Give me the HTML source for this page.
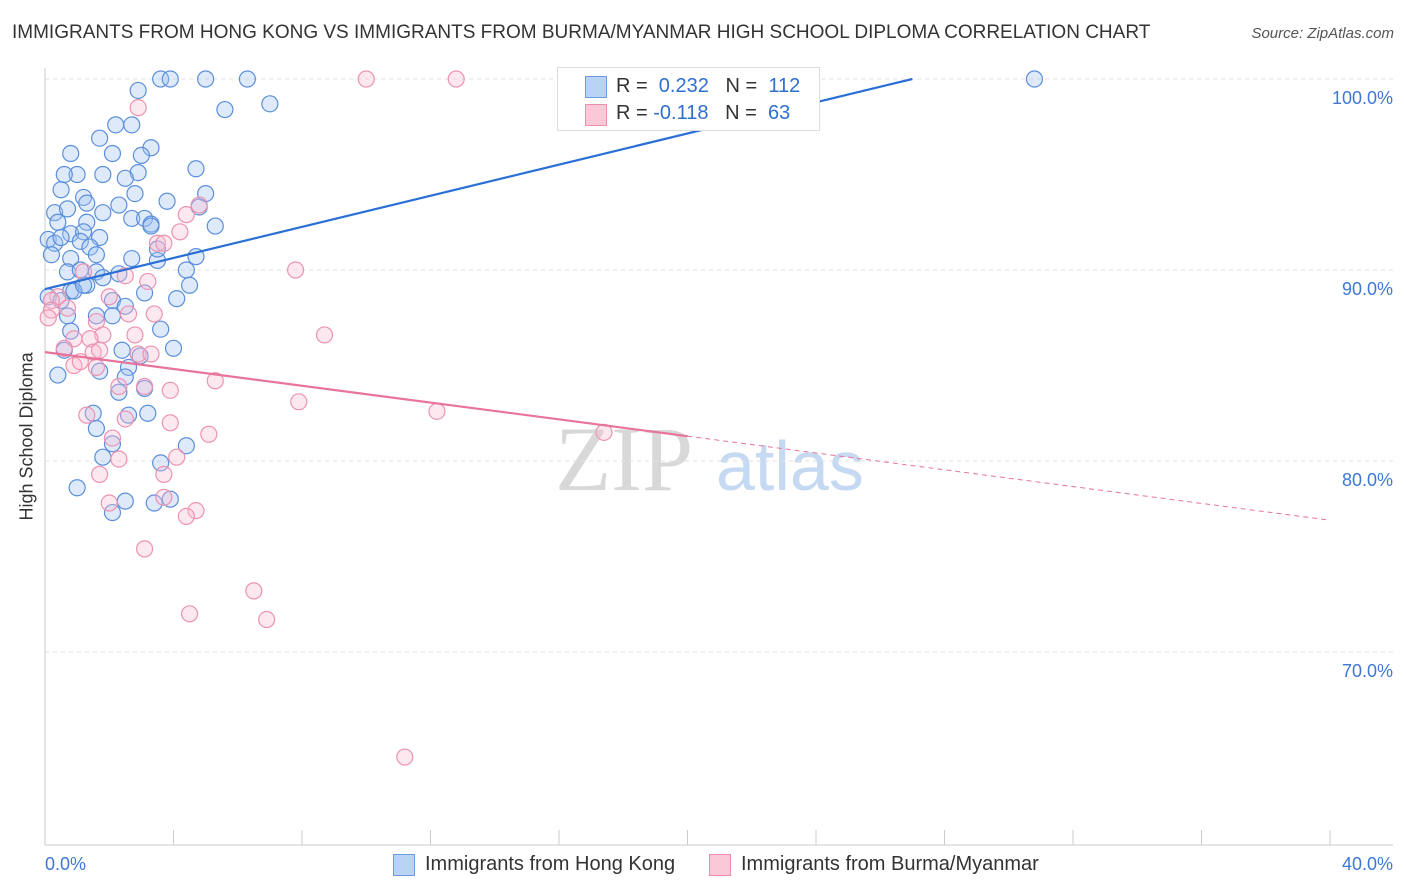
<!DOCTYPE html>
<html><head><meta charset="utf-8">
<style>
body{margin:0;width:1406px;height:892px;background:#fff;font-family:"Liberation Sans",sans-serif;overflow:hidden;position:relative}
.t{position:absolute;white-space:nowrap}
</style></head>
<body>
<div class="t" style="left:12px;top:22px;font-size:19px;color:#333">IMMIGRANTS FROM HONG KONG VS IMMIGRANTS FROM BURMA/MYANMAR HIGH SCHOOL DIPLOMA CORRELATION CHART</div>
<div class="t" style="right:12px;top:25px;font-size:15px;color:#555;font-style:italic">Source: ZipAtlas.com</div>
<svg id="chart" width="1406" height="892" style="position:absolute;left:0;top:0"></svg>
<div class="t" style="left:-38px;top:445px;font-size:18px;color:#333;transform:rotate(-90deg);width:130px;text-align:center">High School Diploma</div>
<div style="position:absolute;left:557px;top:67px;width:261px;height:62px;border:1px solid #ddd;background:#fff;font-size:20px">
 <div style="position:absolute;left:27px;top:8px;width:20px;height:20px;background:#b9d3f5;border:1px solid #6a9be0"></div>
 <div class="t" style="left:58px;top:7px;color:#333">R = <span style="color:#2f6fd0">&nbsp;0.232</span>&nbsp;&nbsp;&nbsp;N = <span style="color:#2f6fd0">&nbsp;112</span></div>
 <div style="position:absolute;left:27px;top:36px;width:20px;height:20px;background:#fbc8d7;border:1px solid #ec8fab"></div>
 <div class="t" style="left:58px;top:34px;color:#333">R = <span style="color:#2f6fd0">-0.118</span>&nbsp;&nbsp;&nbsp;N = <span style="color:#2f6fd0">&nbsp;63</span></div>
</div>
<div style="position:absolute;left:393px;top:853px;font-size:20px;color:#333">
 <div style="position:absolute;left:0;top:1px;width:20px;height:20px;background:#b9d3f5;border:1px solid #6a9be0"></div>
 <div class="t" style="left:32px;top:0">Immigrants from Hong Kong</div>
 <div style="position:absolute;left:316px;top:1px;width:20px;height:20px;background:#fbc8d7;border:1px solid #ec8fab"></div>
 <div class="t" style="left:348px;top:0">Immigrants from Burma/Myanmar</div>
</div>
<script>
const blueX=[3.6,3.9,5.0,6.3,30.8,2.9,7.0,5.6,2.2,2.7,1.7,3.3,0.8,2.1,3.0,1.0,1.8,2.9,2.5,4.7,0.5,1.2,2.8,5.0,2.3,3.8,4.8,0.3,0.7,1.3,1.8,2.7,3.1,3.3,5.3,0.4,1.3,0.8,1.2,1.7,0.1,0.3,0.5,1.1,1.4,0.2,0.8,1.6,2.7,3.5,3.5,4.7,4.4,0.7,1.1,1.6,1.8,2.3,4.5,0.8,1.3,0.1,0.5,2.1,3.1,4.1,2.5,0.7,1.6,2.1,3.6,0.8,0.6,2.4,4.0,2.96,0.4,1.7,2.6,2.5,3.1,2.3,3.2,1.5,2.6,1.6,2.1,4.4,1.8,3.6,1.0,2.5,2.1,3.4,3.9,0.6,3.3,0.9,1.2];
const blueY=[100,100,100,100,100,99.4,98.7,98.4,97.6,97.6,96.9,96.4,96.1,96.1,96.0,95.0,95.0,95.1,94.8,95.3,94.2,93.8,94.0,94.0,93.4,93.6,93.3,93.0,93.2,93.5,93.0,92.7,92.7,92.4,92.3,92.5,92.5,91.9,92.0,91.7,91.6,91.4,91.7,91.5,91.2,90.8,90.6,90.8,90.6,90.5,91.1,90.7,90.0,89.9,90.0,89.9,89.6,89.8,89.2,88.9,89.2,88.6,88.4,88.4,88.8,88.5,88.1,87.6,87.6,87.6,86.9,86.8,85.8,85.8,85.9,85.5,84.5,84.7,84.9,84.4,83.8,83.6,82.5,82.5,82.4,81.7,80.9,80.8,80.2,79.9,78.6,77.9,77.3,77.8,78.0,95.0,92.3,88.9,89.2];
const pinkX=[10.0,12.8,2.9,4.4,4.8,4.2,3.5,7.8,3.2,2.5,1.2,0.4,0.2,0.2,0.7,0.1,1.6,2.6,3.4,8.7,0.9,1.8,1.4,2.8,0.6,1.5,1.7,2.9,3.3,0.9,1.1,5.3,2.3,3.1,3.9,7.9,1.3,3.9,12.2,2.5,5.1,2.1,17.4,2.3,4.1,1.7,3.7,3.7,2.0,4.7,4.4,3.1,6.5,4.5,6.9,11.2,3.7,2.0,1.6];
const pinkY=[100,100,98.5,92.9,93.4,92.0,91.4,90.0,89.4,89.7,89.9,88.6,88.4,87.9,88.0,87.5,87.3,87.7,87.7,86.6,86.4,86.6,86.4,86.6,85.9,85.7,85.8,85.6,85.6,85.0,85.2,84.2,83.9,83.9,83.7,83.1,82.4,82.0,82.6,82.2,81.4,81.2,81.5,80.1,80.2,79.3,79.3,78.1,77.8,77.4,77.1,75.4,73.2,72.0,71.7,64.5,91.4,88.6,84.9];
const yTicks=[100,90,80,70];
const xTicks=[0,4,8,12,16,20,24,28,32,36,40];
const blueLine=[0,89.0,27,100];
const pinkLine=[0,85.7,20,81.3,40,76.9];

const svg=document.getElementById('chart');const NS='http://www.w3.org/2000/svg';
const X=v=>45+v*32.125, Y=v=>79+(100-v)*19.1;
function mk(tag,at){const e=document.createElementNS(NS,tag);for(const k in at)e.setAttribute(k,at[k]);svg.appendChild(e);return e;}
let w=mk('text',{x:555,y:490,'font-size':92,fill:'#d8d8d8','font-family':'Liberation Serif'});w.textContent='ZIP';


let w2=mk('text',{x:716,y:490,'font-size':70,fill:'#c6d9f2','font-family':'Liberation Sans'});w2.textContent='atlas';


yTicks.forEach(t=>{const g=mk('line',{x1:45,x2:1393,y1:Y(t),y2:Y(t),stroke:'#e2e2e2','stroke-dasharray':'4,4'});


const l=mk('text',{x:1393,y:Y(t)+25,'text-anchor':'end','font-size':18,fill:'#3f78d4','font-family':'Liberation Sans'});l.textContent=t.toFixed(1)+'%';

});
const ax=mk('line',{x1:45,x2:45,y1:68,y2:845,stroke:'#ccc'});


const bx=mk('line',{x1:45,x2:1393,y1:845,y2:845,stroke:'#ccc'});


xTicks.forEach(t=>{const tk=mk('line',{x1:X(t),x2:X(t),y1:830,y2:845,stroke:'#ccc'});

});
[[0,'0.0%','start',45],[40,'40.0%','end',1393]].forEach(a=>{const l=mk('text',{x:a[3],y:870,'text-anchor':a[2],'font-size':18,fill:'#3f78d4','font-family':'Liberation Sans'});l.textContent=a[1];

});
blueX.forEach((x,i)=>{const c=mk('circle',{cx:X(x),cy:Y(blueY[i]),r:8,fill:'rgba(160,196,240,0.35)',stroke:'#5b8fdc','stroke-width':1.2});

});
pinkX.forEach((x,i)=>{const c=mk('circle',{cx:X(x),cy:Y(pinkY[i]),r:8,fill:'rgba(248,190,210,0.35)',stroke:'#ec93b0','stroke-width':1.2});

});
const bl=mk('line',{x1:X(blueLine[0]),y1:Y(blueLine[1]),x2:X(blueLine[2]),y2:Y(blueLine[3]),stroke:'#2a6fd6','stroke-width':2.2});


const pl=mk('line',{x1:X(pinkLine[0]),y1:Y(pinkLine[1]),x2:X(pinkLine[2]),y2:Y(pinkLine[3]),stroke:'#e8739b','stroke-width':2.2});


const pd=mk('line',{x1:X(pinkLine[2]),y1:Y(pinkLine[3]),x2:X(pinkLine[4]),y2:Y(pinkLine[5]),stroke:'#e8739b','stroke-width':1,'stroke-dasharray':'5,4'});


</script>
</body></html>
